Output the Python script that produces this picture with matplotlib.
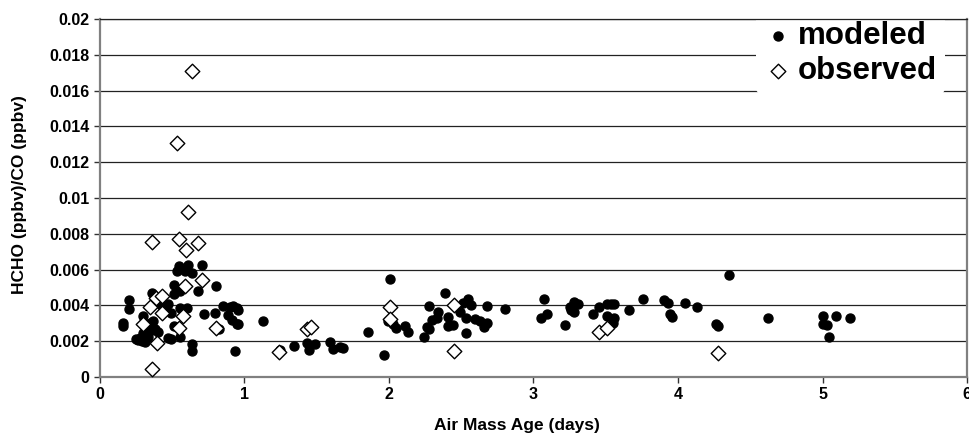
import matplotlib.pyplot as plt
import numpy as np

# modeled HCHO/CO ratio vs air mass age
mod_age = [0.161, 0.161, 0.203, 0.203, 0.25, 0.265, 0.28, 0.29, 0.30, 0.311, 0.32, 0.334,
           0.30, 0.346, 0.35, 0.365, 0.36, 0.38, 0.404, 0.357, 0.404, 0.42, 0.473, 0.46,
           0.491, 0.473, 0.49, 0.512, 0.512, 0.512, 0.531, 0.549, 0.554, 0.554, 0.554,
           0.588, 0.604, 0.611, 0.635, 0.635, 0.635, 0.680, 0.704, 0.72, 0.796, 0.803,
           0.826, 0.853, 0.888, 0.90, 0.911, 0.92, 0.934, 0.946, 0.95, 0.957, 0.957,
           1.13, 1.246, 1.34, 1.435, 1.45, 1.488, 1.59, 1.61, 1.66, 1.68, 1.857, 1.967,
           2.01, 1.99, 2.03, 2.05, 2.11, 2.13, 2.24, 2.26, 2.28, 2.28, 2.30, 2.33, 2.34,
           2.39, 2.41, 2.41, 2.445, 2.49, 2.51, 2.55, 2.57, 2.53, 2.53, 2.595, 2.63, 2.66,
           2.68, 2.68, 2.80,
           3.05, 3.07, 3.09, 3.22, 3.25, 3.26, 3.28, 3.28, 3.31, 3.41, 3.45, 3.51, 3.535,
           3.56, 3.51, 3.56, 3.55, 3.66, 3.755, 3.90, 3.93, 3.945, 3.96, 4.05, 4.13, 4.26,
           4.28, 4.355, 4.625, 5.006, 5.09, 5.19, 5.006, 5.03, 5.045]
mod_ratio = [0.00304, 0.00286, 0.00431, 0.00379, 0.0021, 0.00207, 0.0022, 0.0020, 0.00245,
             0.00198, 0.0024, 0.00226, 0.00342, 0.00263, 0.0030, 0.00315, 0.00263, 0.0027,
             0.00254, 0.00472, 0.00435, 0.0040, 0.00407, 0.00398, 0.0036, 0.00217, 0.00211,
             0.00286, 0.00465, 0.00515, 0.0059, 0.00618, 0.00478, 0.00385, 0.00226, 0.0059,
             0.00385, 0.00627, 0.0058, 0.00185, 0.00146, 0.00482, 0.00627, 0.00353, 0.0036,
             0.0051, 0.00267, 0.00398, 0.00347, 0.0039, 0.00319, 0.00398, 0.00146, 0.00388,
             0.00297, 0.00375, 0.00297,
             0.00312, 0.00151, 0.00175, 0.00188, 0.00151, 0.00183, 0.00198, 0.00157, 0.0017,
             0.00164, 0.00254, 0.00123, 0.00547, 0.00315, 0.00297, 0.00273, 0.00286, 0.00254,
             0.00222, 0.00278, 0.00267, 0.00398, 0.00319, 0.00329, 0.00366, 0.00472, 0.00334,
             0.00286, 0.00291, 0.00366, 0.00416, 0.00435, 0.00403, 0.00329, 0.00248, 0.00323,
             0.00315, 0.00282, 0.003, 0.00398, 0.00379,
             0.00329, 0.00435, 0.00353, 0.00291, 0.00394, 0.00375, 0.00366, 0.00422, 0.00409,
             0.00353, 0.00394, 0.00409, 0.0041, 0.00409, 0.00342, 0.00329, 0.00304, 0.00372,
             0.00435, 0.00431, 0.00416, 0.00353, 0.00334, 0.00416, 0.0039, 0.00297, 0.00288,
             0.00571, 0.00329, 0.00342, 0.00343, 0.00329, 0.00297, 0.00291, 0.00226]

# observed
obs_age = [0.635, 0.53, 0.611, 0.362, 0.549, 0.680, 0.593, 0.704, 0.588, 0.388, 0.431,
           0.346, 0.431, 0.30, 0.572, 0.397, 0.549, 0.803, 0.362, 1.24, 1.435, 1.458,
           2.01, 2.01, 2.45, 2.45, 3.45, 3.51, 4.28]
obs_ratio = [0.0171, 0.01309, 0.0092, 0.00755, 0.00773, 0.00749, 0.00711, 0.0054, 0.0051,
             0.0044, 0.00454, 0.00394, 0.0036, 0.00297, 0.00343, 0.00189, 0.00273, 0.00276,
             0.00045, 0.00138, 0.00269, 0.00282, 0.00394, 0.00323, 0.00403, 0.00146,
             0.00254, 0.00273, 0.00133]

y_labels = ['0', '0.002', '0.004', '0.006', '0.008', '0.01', '0.012',
            '0.014', '0.016', '0.018', '0.02']

plt.rcParams['font.family'] = ['Liberation Sans', 'DejaVu Sans']
plt.rcParams['font.weight'] = 'bold'

fig = plt.figure(figsize=(9.7, 4.4), dpi=100)
ax = fig.add_axes([0.103, 0.143, 0.894, 0.814])

ax.scatter(mod_age, mod_ratio, s=42, color='black', marker='o', zorder=3, label='modeled')
ax.scatter(obs_age, obs_ratio, s=55, facecolor='white', edgecolor='black', marker='D',
           linewidth=1.0, zorder=4, label='observed')

ax.set_xlim(0, 6)
ax.set_ylim(0, 0.02)
ax.set_xticks(np.arange(0, 7, 1))
ax.set_yticks(np.arange(0, 0.0201, 0.002))
ax.set_yticklabels(y_labels)
ax.yaxis.grid(True, color='#222222', linewidth=0.9)
ax.set_axisbelow(True)

for side in ['left', 'bottom', 'right']:
    ax.spines[side].set_color('#808080')
    ax.spines[side].set_linewidth(1.6)
ax.spines['top'].set_visible(False)
ax.tick_params(axis='both', direction='out', length=4, width=1, color='#333333',
               labelsize=11.5)

ax.set_xlabel('Air Mass Age (days)', fontsize=12.5, fontweight='bold')
ax.set_ylabel('HCHO (ppbv)/CO (ppbv)', fontsize=12.5, fontweight='bold')
ax.xaxis.set_label_coords(0.481, -0.115)
ax.yaxis.set_label_coords(-0.084, 0.51)

leg = ax.legend(loc='upper right', bbox_to_anchor=(0.9746, 1.015), frameon=True,
                prop={'size': 22.5, 'weight': 'bold'}, handletextpad=0.2,
                borderpad=0.25, borderaxespad=0, labelspacing=0.14,
                handlelength=0.9)
leg.get_frame().set_edgecolor('none')
leg.get_frame().set_facecolor('white')
leg.get_frame().set_alpha(1)

# top line of the plot area stays visible over the legend box
ax.axhline(0.02, color='#222222', linewidth=0.9, zorder=6, clip_on=False)

fig.savefig('out.png', dpi=100)
